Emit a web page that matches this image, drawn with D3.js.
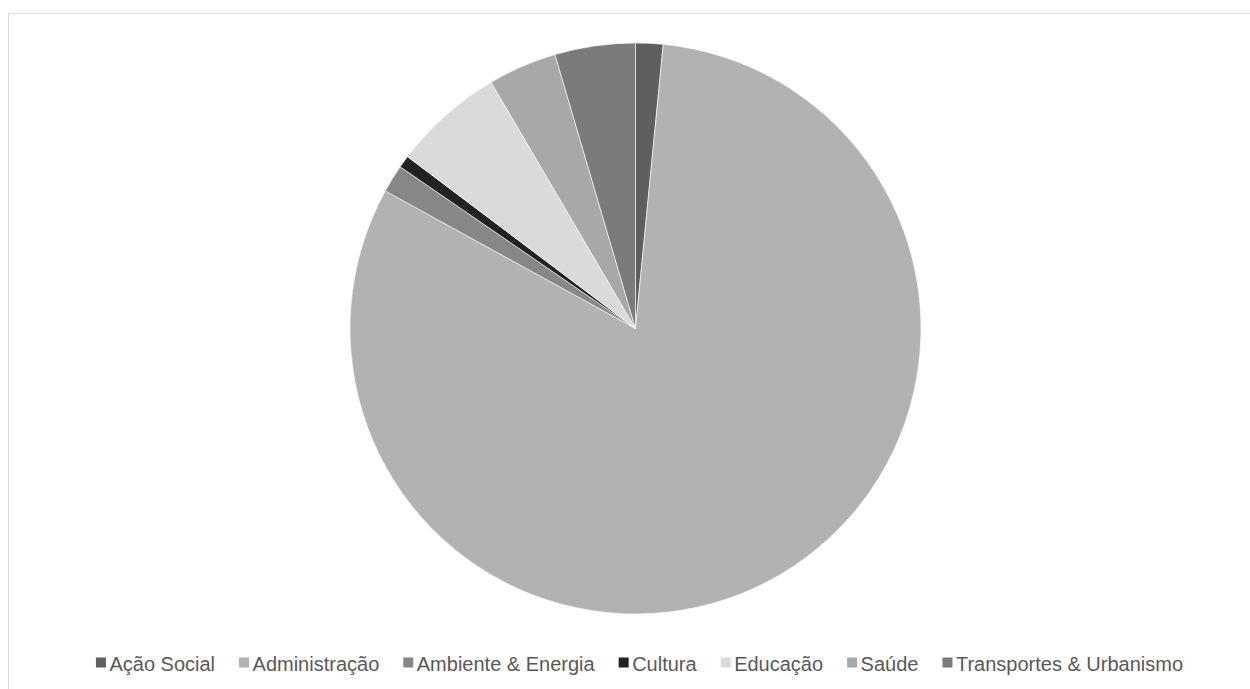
<!DOCTYPE html>
<html>
<head>
<meta charset="utf-8">
<script src="https://cdn.jsdelivr.net/npm/d3@7"></script>
<style>
  html, body { margin: 0; padding: 0; background: #fff; }
  svg { display: block; }
</style>
</head>
<body>
<svg id="chart" width="1250" height="689"></svg>
<script>
const categories = ["Ação Social", "Administração", "Ambiente & Energia", "Cultura", "Educação", "Saúde", "Transportes & Urbanismo"];
const values = [1.55, 81.45, 1.58, 0.70, 6.28, 3.89, 4.55];
const colors = ["#5f5f5f", "#b2b2b2", "#878787", "#222222", "#dadada", "#a8a8a8", "#7b7b7b"];

const svg = d3.select("#chart");

svg.append("rect")
  .attr("x", 8.5).attr("y", 13.5)
  .attr("width", 1300).attr("height", 800)
  .attr("fill", "#fff").attr("stroke", "#d9d9d9").attr("stroke-width", 1);

const cx = 635.5, cy = 328.5, r = 285.5;
const pie = d3.pie().sort(null).value(d => d)(values);
const arc = d3.arc().innerRadius(0).outerRadius(r);
const color = d3.scaleOrdinal().domain(categories).range(colors);

svg.append("g").attr("transform", `translate(${cx},${cy})`)
  .selectAll("path").data(pie).join("path")
  .attr("d", arc)
  .attr("fill", (d, i) => color(categories[i]))
  .attr("stroke", "#ffffff").attr("stroke-width", 0.6);

// Legend
const fontSize = 20;
const textOffset = 13.5;
const gap = 24;
const legend = svg.append("g");
const items = legend.selectAll("g").data(categories).join("g");
items.append("rect").attr("width", 10).attr("height", 10).attr("y", -10.5)
  .attr("fill", d => color(d));
items.append("text").attr("x", textOffset).attr("y", 2.5)
  .attr("font-family", "Liberation Sans, Arial, sans-serif")
  .attr("font-size", fontSize).attr("fill", "#595959")
  .text(d => d);
const widths = [];
items.each(function() {
  widths.push(d3.select(this).select("text").node().getComputedTextLength());
});
const total = widths.reduce((a, w) => a + textOffset + w, 0) + gap * (categories.length - 1);
let startX = 639.5 - total / 2;
items.attr("transform", (d, i) => {
  const tx = startX;
  startX += textOffset + widths[i] + gap;
  return `translate(${tx},668)`;
});
</script>
</body>
</html>
